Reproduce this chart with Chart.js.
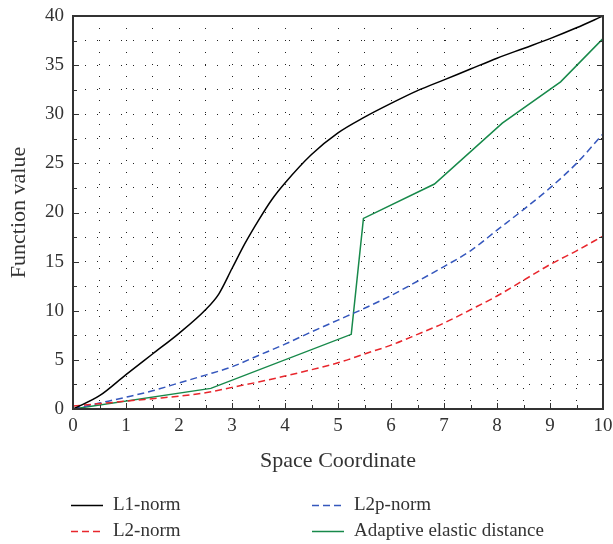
<!DOCTYPE html>
<html>
<head>
<meta charset="utf-8">
<script src="https://cdn.jsdelivr.net/npm/chart.js@4/dist/chart.umd.min.js"></script>
<style>
  html, body { margin: 0; padding: 0; background: #fff; }
  #wrap { width: 613px; height: 544px; }
</style>
</head>
<body>
<div id="wrap"><canvas id="chart" width="613" height="544"></canvas></div>
<script>
// values
const l1X = [0, 0.5, 1, 1.5, 2, 2.5, 2.75, 3, 3.25, 3.5, 3.75, 4, 4.5, 5, 5.5, 6, 6.5, 7, 7.5, 8, 8.5, 9, 9.5, 10];
const l1Y = [0, 1.35, 3.5, 5.6, 7.7, 10.1, 11.7, 14.3, 16.9, 19.2, 21.3, 23.0, 25.9, 28.1, 29.7, 31.1, 32.4, 33.5, 34.6, 35.7, 36.7, 37.7, 38.8, 40];

const l2X = [0, 0.5, 1, 1.5, 2, 2.5, 3, 3.5, 4, 4.5, 5, 5.5, 6, 6.5, 7, 7.5, 8, 8.5, 9, 9.5, 10];
const l2Y = [0.3, 0.54, 0.8, 1.05, 1.3, 1.65, 2.2, 2.75, 3.35, 4.0, 4.7, 5.6, 6.5, 7.6, 8.75, 10.1, 11.5, 13.1, 14.7, 16.1, 17.6];

const l2pX = [0, 0.5, 1, 1.5, 2, 2.5, 3, 3.5, 4, 4.5, 5, 5.5, 6, 6.5, 7, 7.5, 8, 8.5, 9, 9.5, 10];
const l2pY = [0, 0.6, 1.2, 1.85, 2.65, 3.45, 4.3, 5.45, 6.6, 7.85, 9.05, 10.25, 11.55, 13.0, 14.5, 16.1, 18.2, 20.3, 22.5, 25.0, 28.0];

const aedX = [0, 2.6, 5.25, 5.48, 6.82, 8.1, 9.2, 10];
const aedY = [0, 2.1, 7.6, 19.4, 22.9, 29.1, 33.3, 37.7];

const seriesNames = ['L1-norm', 'L2-norm', 'L2p-norm', 'Adaptive elastic distance'];
const xTitle = 'Space Coordinate';
const yTitle = 'Function value';

const FONT = "'Liberation Serif', 'Times New Roman', serif";
const TXT = '#333';

function pts(xs, ys) {
    return xs.map((x, i) => ({ x: x, y: ys[i] }));
}

// frame + inward ticks
const framePlugin = {
    id: 'frame',
    afterDraw(chart) {
        const ctx = chart.ctx;
        const a = chart.chartArea;
        const xs = chart.scales.x, ys = chart.scales.y;
        ctx.save();
        ctx.strokeStyle = '#333';
        ctx.lineWidth = 1;
        for (let v = 0.5; v < 10; v += 0.5) {
            const px = Math.round(xs.getPixelForValue(v)) + 0.5;
            const len = Number.isInteger(v) ? 6 : 4;
            ctx.beginPath();
            ctx.moveTo(px, a.bottom);
            ctx.lineTo(px, a.bottom - len);
            ctx.stroke();
        }
        for (let v = 2.5; v < 40; v += 2.5) {
            const py = Math.round(ys.getPixelForValue(v)) + 0.5;
            const len = v % 5 === 0 ? 6 : 4;
            ctx.beginPath();
            ctx.moveTo(a.left, py);
            ctx.lineTo(a.left + len, py);
            ctx.moveTo(a.right, py);
            ctx.lineTo(a.right - len, py);
            ctx.stroke();
        }
        ctx.lineWidth = 2;
        ctx.strokeRect(a.left, a.top, a.right - a.left, a.bottom - a.top);
        ctx.restore();
    }
};

// legend in two columns under the axis title
const legendPlugin = {
    id: 'twoColLegend',
    afterDraw(chart) {
        const ctx = chart.ctx;
        const colX = [71, 312];
        const rowY = [505, 531];
        ctx.save();
        ctx.font = '19px ' + FONT;
        ctx.textBaseline = 'middle';
        ctx.fillStyle = TXT;
        chart.data.datasets.forEach((ds, i) => {
            const x = colX[Math.floor(i / 2)];
            const y = rowY[i % 2];
            ctx.strokeStyle = ds.borderColor;
            ctx.lineWidth = 1.5;
            ctx.setLineDash(ds.borderDash || []);
            ctx.beginPath();
            ctx.moveTo(x, y + 0.5);
            ctx.lineTo(x + 32, y + 0.5);
            ctx.stroke();
            ctx.setLineDash([]);
            ctx.fillText(ds.label, x + 42, y);
        });
        ctx.restore();
    }
};

const ctx = document.getElementById('chart').getContext('2d');
const chart = new Chart(ctx, {
    type: 'line',
    data: {
        datasets: [
            {
                label: seriesNames[0],
                data: pts(l1X, l1Y),
                borderColor: '#000000',
                borderWidth: 1.5,
                cubicInterpolationMode: 'monotone'
            },
            {
                label: seriesNames[1],
                data: pts(l2X, l2Y),
                borderColor: '#e8262c',
                borderWidth: 1.5,
                borderDash: [7, 4],
                cubicInterpolationMode: 'monotone'
            },
            {
                label: seriesNames[2],
                data: pts(l2pX, l2pY),
                borderColor: '#3557bd',
                borderWidth: 1.5,
                borderDash: [7, 4],
                cubicInterpolationMode: 'monotone'
            },
            {
                label: seriesNames[3],
                data: pts(aedX, aedY),
                borderColor: '#17894a',
                borderWidth: 1.5,
                tension: 0
            }
        ]
    },
    options: {
        responsive: false,
        animation: false,
        layout: { padding: { top: 16, right: 10, bottom: 70, left: 0 } },
        elements: { point: { radius: 0 } },
        plugins: {
            legend: { display: false },
            tooltip: { enabled: false }
        },
        scales: {
            x: {
                type: 'linear',
                min: 0,
                max: 10,
                ticks: {
                    stepSize: 0.5,
                    autoSkip: false,
                    maxRotation: 0,
                    padding: 6,
                    color: TXT,
                    font: { family: FONT, size: 19 },
                    callback: v => Number.isInteger(v) ? v : ''
                },
                grid: { color: '#222', lineWidth: 1, drawTicks: false },
                border: { display: false, dash: [1, 11] },
                title: {
                    display: true,
                    text: xTitle,
                    color: TXT,
                    font: { family: FONT, size: 22 },
                    padding: { top: 0, bottom: 0 }
                },
                afterFit(s) {
                    s.height = 65;
                    s.paddingLeft = 0;
                    s.paddingRight = 0;
                }
            },
            y: {
                min: 0,
                max: 40,
                ticks: {
                    stepSize: 2.5,
                    autoSkip: false,
                    padding: 9,
                    color: TXT,
                    font: { family: FONT, size: 19 },
                    callback: v => v % 5 === 0 ? v : ''
                },
                grid: { color: '#222', lineWidth: 1, drawTicks: false },
                border: { display: false, dash: [1, 11] },
                title: {
                    display: true,
                    text: yTitle,
                    color: TXT,
                    font: { family: FONT, size: 22 },
                    padding: { top: 6, bottom: 0 }
                },
                afterFit(s) {
                    s.width = 73;
                    s.paddingTop = 0;
                    s.paddingBottom = 0;
                }
            }
        }
    },
    plugins: [framePlugin, legendPlugin]
});
</script>
</body>
</html>
